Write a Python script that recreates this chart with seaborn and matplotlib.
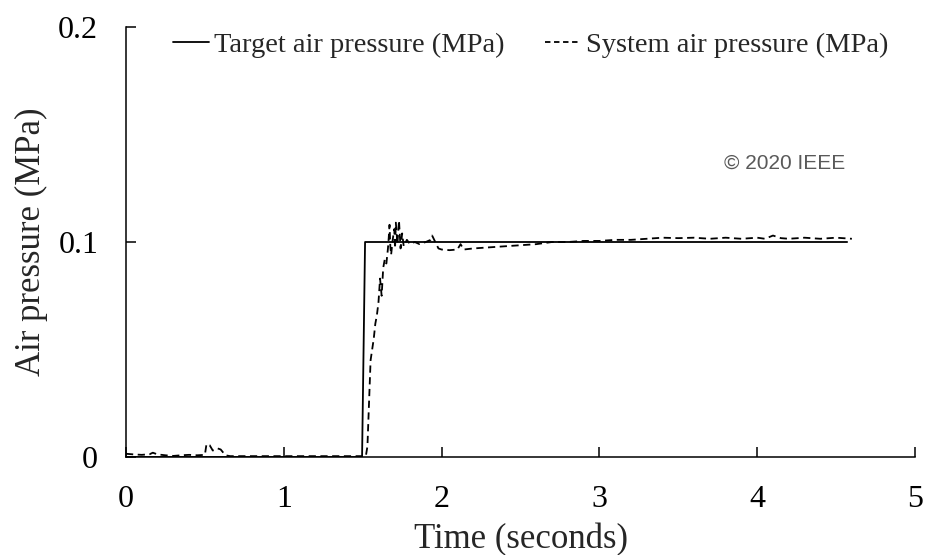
import matplotlib
matplotlib.use("Agg")
import matplotlib.pyplot as plt
import seaborn as sns
import numpy as np

# Target pressure profile: step from 0 to 0.1 MPa at t = 1.5 s
target_time = [0.0, 1.496, 1.515, 4.57]
target_pressure = [0.0, 0.0, 0.1, 0.1]

# Measured system pressure
system_time = [0.00, 0.05, 0.10, 0.15, 0.17, 0.20, 0.25, 0.30, 0.35, 0.40,
               0.45, 0.50, 0.51, 0.53, 0.55, 0.58, 0.60, 0.63, 0.66, 0.70,
               0.80, 0.90, 1.00, 1.10, 1.20, 1.30, 1.40, 1.50, 1.52, 1.53,
               1.54, 1.55, 1.56, 1.57, 1.58, 1.59, 1.60, 1.61, 1.62, 1.63,
               1.64, 1.65, 1.66, 1.665, 1.67, 1.675, 1.68, 1.69, 1.70, 1.705,
               1.71, 1.72, 1.73, 1.74, 1.75, 1.76, 1.78, 1.80, 1.83, 1.86,
               1.90, 1.93, 1.94, 1.96, 1.98, 2.00, 2.05, 2.10, 2.12, 2.14,
               2.20, 2.30, 2.40, 2.50, 2.60, 2.70, 2.80, 2.90, 3.00, 3.10,
               3.20, 3.30, 3.40, 3.50, 3.60, 3.70, 3.80, 3.90, 4.00, 4.05,
               4.10, 4.15, 4.20, 4.30, 4.40, 4.50, 4.60]
system_pressure = [0.0015, 0.0012, 0.0010, 0.0013, 0.0020, 0.0012, 0.0008, 0.0005, 0.0008, 0.0010,
                   0.0008, 0.0010, 0.0060, 0.0055, 0.0030, 0.0040, 0.0035, 0.0008, 0.0004, 0.0004,
                   0.0004, 0.0004, 0.0004, 0.0004, 0.0004, 0.0004, 0.0004, 0.0004, 0.0004, 0.0050,
                   0.0250, 0.0450, 0.0500, 0.0550, 0.0620, 0.0660, 0.0720, 0.0830, 0.0750, 0.0880,
                   0.0920, 0.0900, 0.0970, 0.1020, 0.1080, 0.0980, 0.0940, 0.1010, 0.1060, 0.0970,
                   0.1090, 0.0990, 0.1100, 0.0970, 0.1040, 0.0980, 0.1010, 0.0990, 0.1000, 0.0990,
                   0.1000, 0.1010, 0.1030, 0.1000, 0.0970, 0.0965, 0.0962, 0.0965, 0.0990, 0.0965,
                   0.0970, 0.0975, 0.0980, 0.0985, 0.0990, 0.1000, 0.1000, 0.1005, 0.1005, 0.1010,
                   0.1010, 0.1015, 0.1020, 0.1018, 0.1020, 0.1015, 0.1020, 0.1015, 0.1020, 0.1015,
                   0.1030, 0.1018, 0.1015, 0.1020, 0.1015, 0.1020, 0.1015]

x_ticks = [0, 1, 2, 3, 4, 5]
y_ticks = [0, 0.1, 0.2]
y_tick_labels = ["0", "0.1", "0.2"]

sns.set_theme(style="ticks")
plt.rcParams["font.family"] = ["Liberation Serif", "DejaVu Serif"]

fig = plt.figure(figsize=(9.25, 5.55), dpi=100)
ax = fig.add_axes([126 / 925, 1 - 457 / 555, 789 / 925, 430 / 555])

sns.lineplot(x=target_time, y=target_pressure, ax=ax, color="black",
             linewidth=1.3, sort=False, estimator=None,
             label="Target air pressure (MPa)")
sns.lineplot(x=system_time, y=system_pressure, ax=ax, color="black",
             linewidth=1.3, sort=False, estimator=None,
             dashes=False, label="System air pressure (MPa)")
ax.lines[1].set_linestyle((0, (4, 2.5)))

ax.set_xlim(0, 5)
ax.set_ylim(0, 0.2)
ax.set_xticks(x_ticks)
ax.set_yticks(y_ticks)
ax.set_yticklabels(y_tick_labels)

for s in ("top", "right"):
    ax.spines[s].set_visible(False)
for s in ("left", "bottom"):
    ax.spines[s].set_linewidth(1.1)
    ax.spines[s].set_color("black")

ax.tick_params(axis="both", direction="in", length=7, width=1.1,
               labelsize=23, colors="black")
ax.tick_params(axis="x", pad=20)
ax.tick_params(axis="y", pad=20)

ax.set_xlabel("Time (seconds)", fontsize=25, labelpad=7)
ax.set_ylabel("Air pressure (MPa)", fontsize=25, labelpad=7)

leg = ax.legend(loc="center", bbox_to_anchor=(0.513, 0.957), ncol=2,
                frameon=False, fontsize=20.5, handlelength=1.25,
                handletextpad=0.2, columnspacing=1.4, borderpad=0)
for h in leg.get_lines():
    h.set_linewidth(1.3)
leg.get_lines()[1].set_linestyle((0, (3, 2)))

fig.text(724 / 925, 1 - 163 / 555, "\u00a9 2020 IEEE", fontsize=15,
         color="#595959", family=["Liberation Sans", "DejaVu Sans"],
         va="center", ha="left")

fig.savefig("out.png", dpi=100)
